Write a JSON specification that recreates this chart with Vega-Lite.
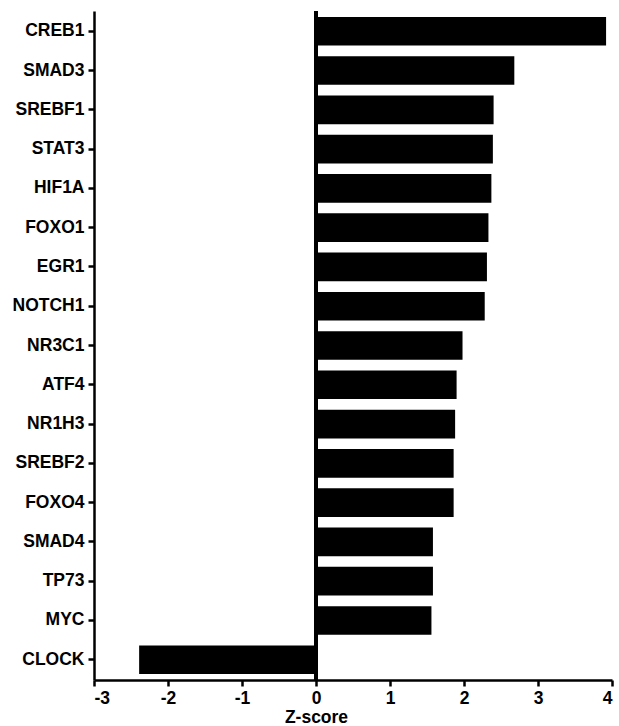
{
  "$schema": "https://vega.github.io/schema/vega-lite/v6.json",
  "autosize": "none",
  "width": 518,
  "height": 669,
  "padding": {"left": 94, "top": 11, "right": 7, "bottom": 46},
  "background": "white",
  "config": {
    "view": {"stroke": null},
    "font": "Liberation Sans",
    "axis": {
      "domainColor": "black",
      "domainWidth": 2.5,
      "tickColor": "black",
      "tickWidth": 2.5,
      "tickSize": 6,
      "labelColor": "black",
      "labelFont": "Liberation Sans",
      "labelFontWeight": "bold",
      "labelFontSize": 17.5,
      "grid": false,
      "titleColor": "black",
      "titleFont": "Liberation Sans",
      "titleFontWeight": "bold",
      "titleFontSize": 17.5
    }
  },
  "data": {
    "values": [
      {"gene": "CREB1", "z": 3.92},
      {"gene": "SMAD3", "z": 2.68},
      {"gene": "SREBF1", "z": 2.40},
      {"gene": "STAT3", "z": 2.39},
      {"gene": "HIF1A", "z": 2.37},
      {"gene": "FOXO1", "z": 2.33},
      {"gene": "EGR1", "z": 2.31},
      {"gene": "NOTCH1", "z": 2.28},
      {"gene": "NR3C1", "z": 1.98},
      {"gene": "ATF4", "z": 1.90},
      {"gene": "NR1H3", "z": 1.88},
      {"gene": "SREBF2", "z": 1.86},
      {"gene": "FOXO4", "z": 1.86},
      {"gene": "SMAD4", "z": 1.58},
      {"gene": "TP73", "z": 1.58},
      {"gene": "MYC", "z": 1.56},
      {"gene": "CLOCK", "z": -2.39}
    ]
  },
  "layer": [
    {
      "mark": {"type": "bar", "color": "black"},
      "encoding": {
        "y": {
          "field": "gene",
          "type": "nominal",
          "sort": null,
          "scale": {"paddingInner": 0.27, "paddingOuter": 0.15},
          "axis": {"title": null, "labelPadding": 4}
        },
        "x": {
          "field": "z",
          "type": "quantitative",
          "scale": {"domain": [-3, 4], "nice": false, "zero": false},
          "axis": {
            "title": "Z-score",
            "values": [-3, -2, -1, 0, 1, 2, 3, 4],
            "labelExpr": "'' + datum.value",
            "labelPadding": 3,
            "titleX": 222,
            "titleY": 42,
            "titleAlign": "center",
            "titleBaseline": "alphabetic"
          }
        }
      }
    },
    {
      "mark": {"type": "rule", "color": "black", "strokeWidth": 2.5},
      "encoding": {"x": {"datum": 0}}
    }
  ]
}
